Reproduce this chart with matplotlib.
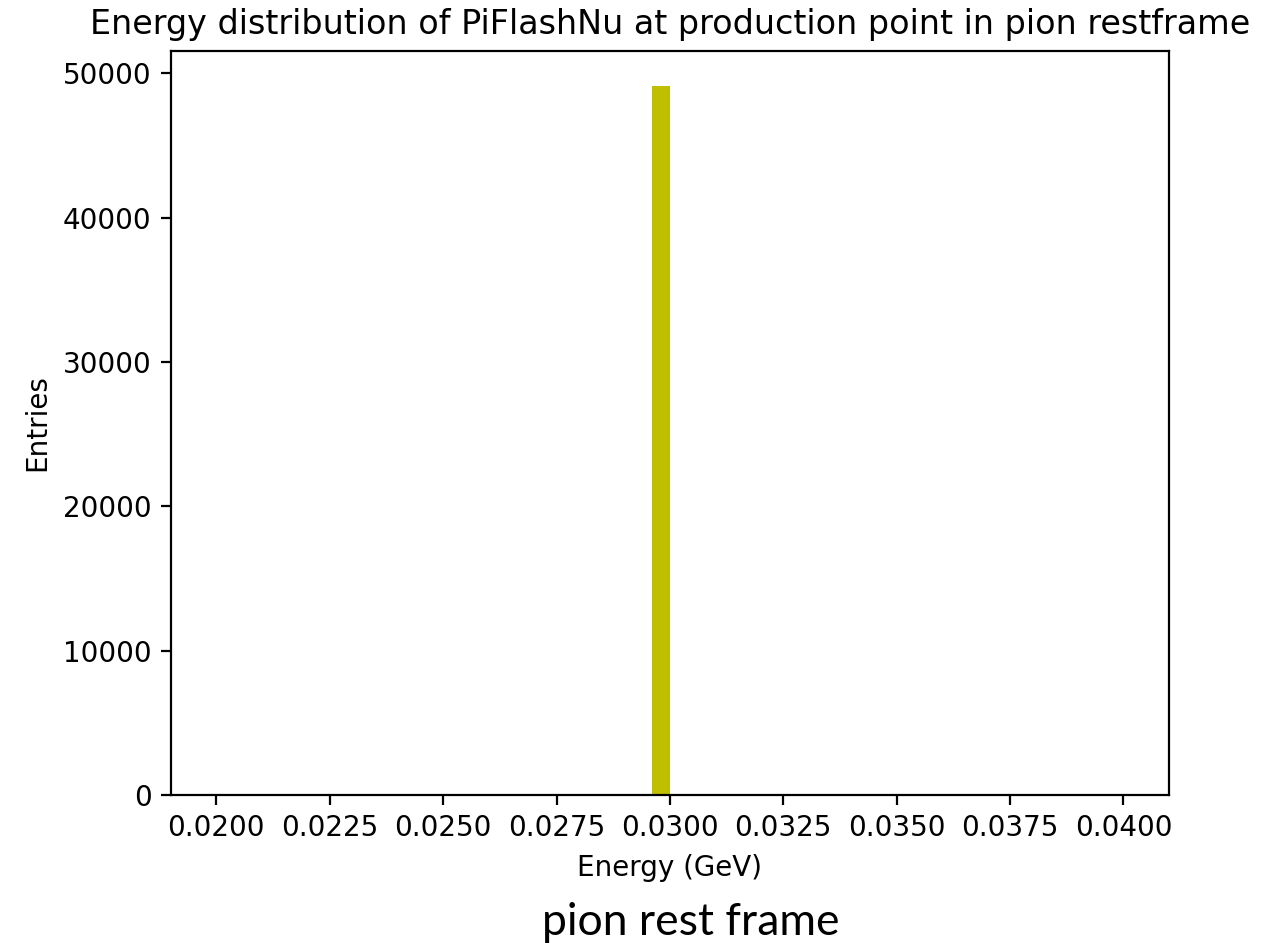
import matplotlib
matplotlib.use('Agg')
import matplotlib.pyplot as plt
import numpy as np

plt.rcParams['font.family'] = ['DejaVu Sans']

# histogram bins (GeV) and counts
bin_edges = np.linspace(0.02, 0.04, 51)
counts = np.zeros(50)
counts[24] = 49100  # the single filled bin 0.0296-0.0300

fig = plt.figure(figsize=(6.38, 4.715), dpi=200)
ax = fig.add_axes([0.134, 0.157, 0.782, 0.789])

ax.hist(bin_edges[:-1], bins=bin_edges, weights=counts, color='y')
ax.set_xlim(0.019, 0.041)
ax.set_xticks(np.arange(0.02, 0.04001, 0.0025))
ax.xaxis.set_major_formatter(matplotlib.ticker.FormatStrFormatter('%.4f'))
ax.set_xlabel('Energy (GeV)')
ax.set_ylabel('Entries')
ax.set_title('Energy distribution of PiFlashNu at production point in pion restframe')

# caption under the figure
fig.text(0.541, 0.022, 'pion rest frame', ha='center', va='center',
         fontsize=16, family='Lato')

fig.savefig('out.png', dpi=200)
